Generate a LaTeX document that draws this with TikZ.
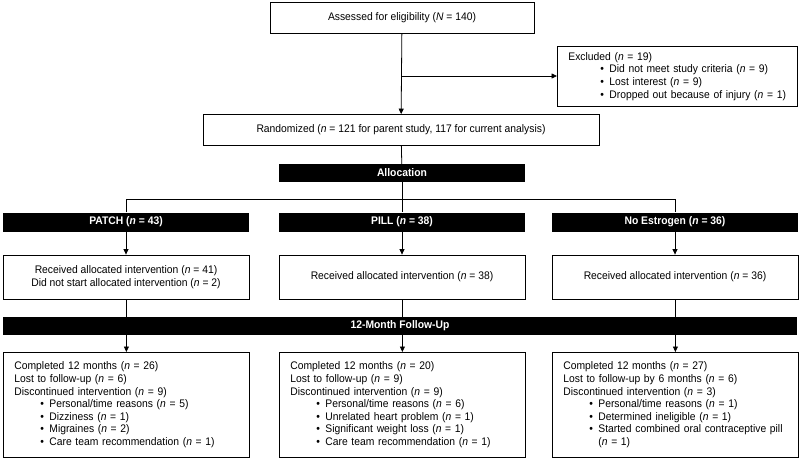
\documentclass[tikz,border=0pt]{standalone}
\usepackage{fontspec}
\setmainfont{Liberation Sans}[FakeStretch=0.94]
\usetikzlibrary{arrows.meta,calc}
\newcommand\nn{\textit{n}}
\newcommand\bl{\hspace*{26pt}\makebox[9pt][l]{\textbullet}}
\newcommand\blx{\hspace*{32pt}\makebox[9pt][l]{\textbullet}}
\newcommand\hg{\hspace*{35pt}}
\begin{document}
\begin{tikzpicture}[x=1pt,y=-1pt,
  txt/.style={font=\fontsize{11}{12.6}\selectfont},
  box/.style={txt,draw,line width=0.8pt,inner sep=0pt,align=center},
  bar/.style={fill=black,text=white,inner sep=0pt,font=\fontsize{11}{13}\selectfont\bfseries},
  lbox/.style={txt,draw,line width=0.8pt,anchor=north west,inner xsep=11pt,inner ysep=0pt,align=left},
  conn/.style={line width=0.8pt},
  arr/.style={conn,-{Triangle[length=5.5pt,width=5pt]}}
]
\useasboundingbox (0,0) rectangle (800,460);
\node[box,minimum width=264pt,minimum height=31pt] (ass) at (402,18) {Assessed for eligibility (\textit{N} = 140)};
\node[lbox,text width=218pt,minimum height=60pt] (exc) at (557,46) {Excluded (\nn{} = 19)\\
\blx Did not meet study criteria (\nn{} = 9)\\
\blx Lost interest (\nn{} = 9)\\
\blx Dropped out because of injury (\nn{} = 1)};
\node[box,minimum width=396pt,minimum height=31pt] (ran) at (401,130) {Randomized (\nn{} = 121 for parent study, 117 for current analysis)};
\node[bar,minimum width=246pt,minimum height=18pt] (alloc) at (402,173) {Allocation};
\node[bar,minimum width=246pt,minimum height=19pt] (patch) at (126,222) {PATCH (\nn{} = 43)};
\node[bar,minimum width=246pt,minimum height=19pt] (pill) at (402,222) {PILL (\nn{} = 38)};
\node[bar,minimum width=246pt,minimum height=19pt] (noe) at (675,222) {No Estrogen (\nn{} = 36)};
\node[box,minimum width=246pt,minimum height=44pt] (b1) at (126,277) {Received allocated intervention (\nn{} = 41)\\Did not start allocated intervention (\nn{} = 2)};
\node[box,minimum width=246pt,minimum height=44pt] (b2) at (402,277) {Received allocated intervention (\nn{} = 38)};
\node[box,minimum width=246pt,minimum height=44pt] (b3) at (675,277) {Received allocated intervention (\nn{} = 36)};
\node[bar,minimum width=794pt,minimum height=18pt] (fu) at (400,326) {12-Month Follow-Up};
\node[lbox,text width=224pt,minimum height=105pt] (f1) at (3,352) {Completed 12 months (\nn{} = 26)\\
Lost to follow-up (\nn{} = 6)\\
Discontinued intervention (\nn{} = 9)\\
\bl Personal/time reasons (\nn{} = 5)\\
\bl Dizziness (\nn{} = 1)\\
\bl Migraines (\nn{} = 2)\\
\bl Care team recommendation (\nn{} = 1)};
\node[lbox,text width=224pt,minimum height=105pt] (f2) at (279,352) {Completed 12 months (\nn{} = 20)\\
Lost to follow-up (\nn{} = 9)\\
Discontinued intervention (\nn{} = 9)\\
\bl Personal/time reasons (\nn{} = 6)\\
\bl Unrelated heart problem (\nn{} = 1)\\
\bl Significant weight loss (\nn{} = 1)\\
\bl Care team recommendation (\nn{} = 1)};
\node[lbox,text width=224pt,minimum height=105pt] (f3) at (552,352) {Completed 12 months (\nn{} = 27)\\
Lost to follow-up by 6 months (\nn{} = 6)\\
Discontinued intervention (\nn{} = 3)\\
\bl Personal/time reasons (\nn{} = 1)\\
\bl Determined ineligible (\nn{} = 1)\\
\bl Started combined oral contraceptive pill\\
\hg(\nn{} = 1)};
\coordinate (ex) at (402,76);
\coordinate (hl) at (402,199);
\draw[arr] (ass) -- (ran);
\draw[arr] (ex) -- (ex -| exc.west);
\draw[conn] (ran) -- (alloc);
\draw[conn] (alloc) -- (pill);
\draw[conn] (patch.north) -- (patch.north |- hl) -- (noe.north |- hl) -- (noe.north);
\draw[arr] (patch) -- (b1);
\draw[arr] (pill) -- (b2);
\draw[arr] (noe) -- (b3);
\draw[conn] (b1) -- (b1 |- fu.north);
\draw[conn] (b2) -- (b2 |- fu.north);
\draw[conn] (b3) -- (b3 |- fu.north);
\draw[arr] (f1.north |- fu.south) -- (f1.north);
\draw[arr] (f2.north |- fu.south) -- (f2.north);
\draw[arr] (f3.north |- fu.south) -- (f3.north);
\end{tikzpicture}
\end{document}
